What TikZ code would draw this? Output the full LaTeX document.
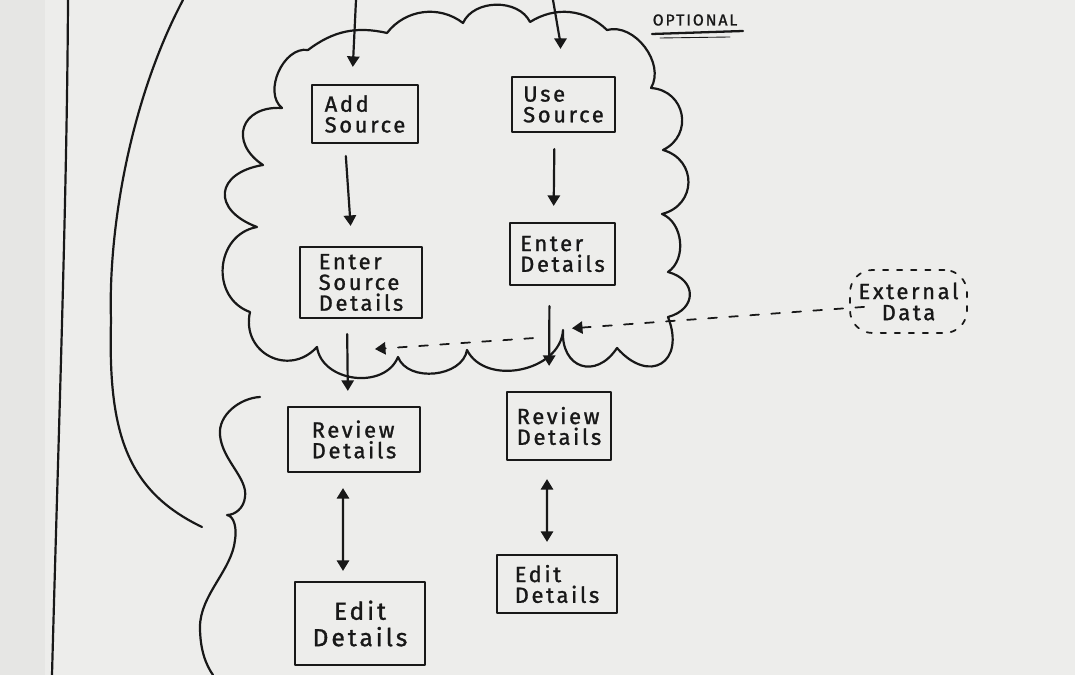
\documentclass[tikz,border=0pt]{standalone}
\usepackage{fontspec}
\setmainfont{Fira Sans}[LetterSpace=12,FakeBold=1.2]
\usetikzlibrary{arrows.meta}
\definecolor{paper}{HTML}{EDEDEB}
\definecolor{strip}{HTML}{E6E6E4}
\definecolor{inkc}{HTML}{181818}
\begin{document}
\begin{tikzpicture}[x=0.02cm,y=-0.02cm,
  ink/.style={draw=inkc,line width=1.25pt,line cap=round,line join=round},
  box/.style={ink,inner sep=0pt,font=\fontsize{12.5}{11.8}\selectfont,text=inkc,align=left},
  arr/.style={ink,-{Triangle[width=7pt,length=6pt]}},
  arrtwo/.style={ink,{Triangle[width=7pt,length=6pt]}-{Triangle[width=7pt,length=6pt]}},
  dsh/.style={ink,line width=1pt,dash pattern=on 5pt off 7pt,-{Triangle[width=7pt,length=6pt]}},
  lbl/.style={font=\fontsize{12.5}{12}\selectfont,text=inkc,align=center}]
\useasboundingbox (0,0) rectangle (1075,675);
\fill[paper] (0,0) rectangle (1075,675);
\fill[strip] (0,0) rectangle (45,675);

% left lines
\draw[ink] (68,0) .. controls (67,200) and (58,450) .. (52,675);
\draw[ink] (183,0) .. controls (130,100) and (108,230) .. (111,320)
  .. controls (108,430) and (125,490) .. (202,527);
% lower bracket
\draw[ink] (260,397) .. controls (240,398) and (218,415) .. (220,435)
  .. controls (222,460) and (248,478) .. (245,497)
  .. controls (244,508) and (235,515) .. (227,515)
  .. controls (234,516) and (237,528) .. (235,540)
  .. controls (232,570) and (200,595) .. (200,627)
  .. controls (200,650) and (206,665) .. (213,675);

% cloud
\draw[ink] (308,50)
  to[bend left=25] (387,33)
  to[bend left=45] (463,23)
  to[bend left=65] (530,22)
  to[bend left=38] (607,30)
  to[bend left=68] (651,88)
  to[bend left=75,looseness=1.4] (663,150)
  to[bend left=75,looseness=1.43] (662,214)
  to[bend left=62] (668,272)
  to[bend left=75,looseness=1.72] (668,317)
  to[bend left=80,looseness=2.1] (617,348)
  to[bend left=75,looseness=1.73] (563,330)
  to[bend left=75,looseness=1.08] (467,350)
  to[bend left=75,looseness=1.02] (398,357)
  to[bend left=75,looseness=1.12] (317,347)
  to[bend left=75,looseness=1.41] (250,312)
  to[bend left=75,looseness=1.28] (257,227)
  to[bend left=75,looseness=2.0] (263,165)
  to[bend left=75,looseness=1.76] (282,108)
  to[bend left=75] (308,50);

% OPTIONAL label
\node[font=\fontsize{9}{10}\selectfont\addfontfeatures{LetterSpace=12},text=inkc,inner sep=0pt] (opt) at (695,20) {OPTIONAL};
\draw[ink,line width=1.3pt] (652,34) -- (743,31);
\draw[ink,line width=0.5pt] (660,38) -- (730,37);

% boxes
\node[box,minimum width=2.12cm,minimum height=1.16cm] (as) at (365,114) {Add\\Source};
\node[box,minimum width=2.06cm,minimum height=1.10cm] (us) at (563.5,104.5) {Use\\Source};
\node[box,minimum width=2.44cm,minimum height=1.42cm] (esd) at (361,282.5) {Enter\\Source\\Details};
\node[box,minimum width=2.10cm,minimum height=1.24cm] (ed) at (562.5,254) {Enter\\Details};
\node[box,minimum width=2.64cm,minimum height=1.30cm] (rdl) at (354,439.5) {Review\\Details};
\node[box,minimum width=2.08cm,minimum height=1.36cm] (rdr) at (559,426) {Review\\Details};
\node[box,minimum width=2.60cm,minimum height=1.66cm,font=\fontsize{14}{15}\selectfont,align=center] (edl) at (360,623.5) {Edit\\Details};
\node[box,minimum width=2.40cm,minimum height=1.16cm] (edr) at (557,584) {Edit\\Details};
\node[ink,line width=1pt,dash pattern=on 3pt off 5pt,rounded corners=0.45cm,inner sep=0pt,minimum width=2.34cm,minimum height=1.26cm,lbl] (ext) at (908.5,301.5) {External\\Data};

% free ends and junctions
\coordinate (t1) at (356,0);
\coordinate (t2) at (553,0);
\coordinate (j1) at (549,330);
\coordinate (j2) at (549,337);
\coordinate (j3) at (347,351);

% connectors
\draw[arr,shorten >=0.34cm] (t1) -- ([xshift=-0.26cm]as.north);
\draw[arr,shorten >=0.54cm] (t2) to[out=-80,in=90] ([xshift=-0.06cm]us.north);
\draw[arr,shorten <=0.24cm,shorten >=0.4cm] ([xshift=-0.4cm]as.south) -- ([xshift=-0.18cm]esd.north);
\draw[arr,shorten <=0.32cm,shorten >=0.32cm] ([xshift=-0.18cm]us.south) -- ([xshift=-0.18cm]ed.north);
\draw[arr,shorten <=0.3cm,shorten >=0.3cm] ([xshift=-0.28cm]esd.south) -- ([xshift=-0.12cm]rdl.north);
\draw[arr,shorten <=0.4cm,shorten >=0.5cm] ([xshift=-0.26cm]ed.south) -- ([xshift=-0.2cm]rdr.north);
\draw[arrtwo,shorten <=0.3cm,shorten >=0.2cm] ([xshift=-0.22cm]rdl.south) -- ([xshift=-0.34cm]edl.north);
\draw[arrtwo,shorten <=0.36cm,shorten >=0.24cm] ([xshift=-0.24cm]rdr.south) -- ([xshift=-0.2cm]edr.north);
\draw[dsh,shorten <=-0.3cm,shorten >=0.46cm] ([yshift=-0.13cm]ext.west) -- (j1);
\draw[dsh,shorten <=0.32cm,shorten >=0.56cm] (j2) -- (j3);
\end{tikzpicture}
\end{document}
